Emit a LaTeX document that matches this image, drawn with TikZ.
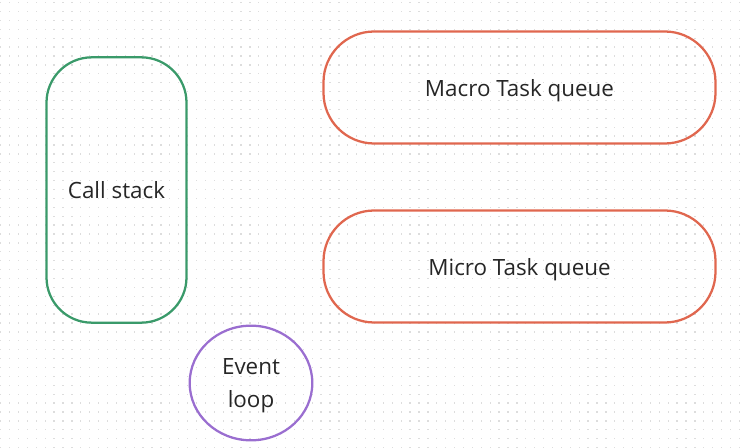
\documentclass[tikz,border=0pt]{standalone}
\usepackage{fontspec}
\setmainfont{Open Sans}
\usepackage{xcolor}
\definecolor{loopDark}{HTML}{262626}
\definecolor{stackGreen}{HTML}{3A9A6A}
\definecolor{queueOrange}{HTML}{E0674F}
\definecolor{eventPurple}{HTML}{9A6ED0}
\definecolor{gridDot}{HTML}{DDDDDD}
\usetikzlibrary{shapes.geometric,positioning}
\tikzset{
    px/.style={x=0.75pt,y=-0.75pt},
    stackbox/.style={
        draw=stackGreen,
        rectangle,
        rounded corners=34pt,
        line width=1.7pt,
        minimum width=105pt,
        minimum height=199pt,
        text height=17pt,
        text depth=4pt,
        align=center,
        text=loopDark,
        font=\fontsize{16.8pt}{20pt}\selectfont
    },
    queuebox/.style={
        draw=queueOrange,
        rectangle,
        rounded corners=38pt,
        line width=1.7pt,
        minimum width=294pt,
        minimum height=84pt,
        text height=17pt,
        text depth=4pt,
        align=center,
        text=loopDark,
        font=\fontsize{16.8pt}{20pt}\selectfont
    },
    loopcircle/.style={
        draw=eventPurple,
        ellipse,
        line width=1.7pt,
        minimum width=92pt,
        minimum height=86pt,
        inner sep=0pt,
        text height=41.5pt,
        text depth=4pt,
        align=center,
        text=loopDark,
        font=\fontsize{16.8pt}{25pt}\selectfont
    }
}
\begin{document}
\begin{tikzpicture}[px]
    \useasboundingbox (0,0) rectangle (742,448);
    % dotted canvas
    \foreach \i in {0,...,83} {
        \foreach \j in {0,...,50} {
            \fill[gridDot] (\i*8.9,2+\j*8.9) rectangle ++(1.3,1.3);
        }
    }

    % call stack
    \node[stackbox] (callstack) at (116.5,190) {Call stack};

    % task queues
    \node[queuebox] (macroqueue) at (519.5,87.5) {Macro Task queue};
    \node[queuebox] (microqueue) at (519.5,266.5) {Micro Task queue};

    % event loop
    \node[loopcircle] (eventloop) at (251,383) {Event\\loop};
\end{tikzpicture}
\end{document}
